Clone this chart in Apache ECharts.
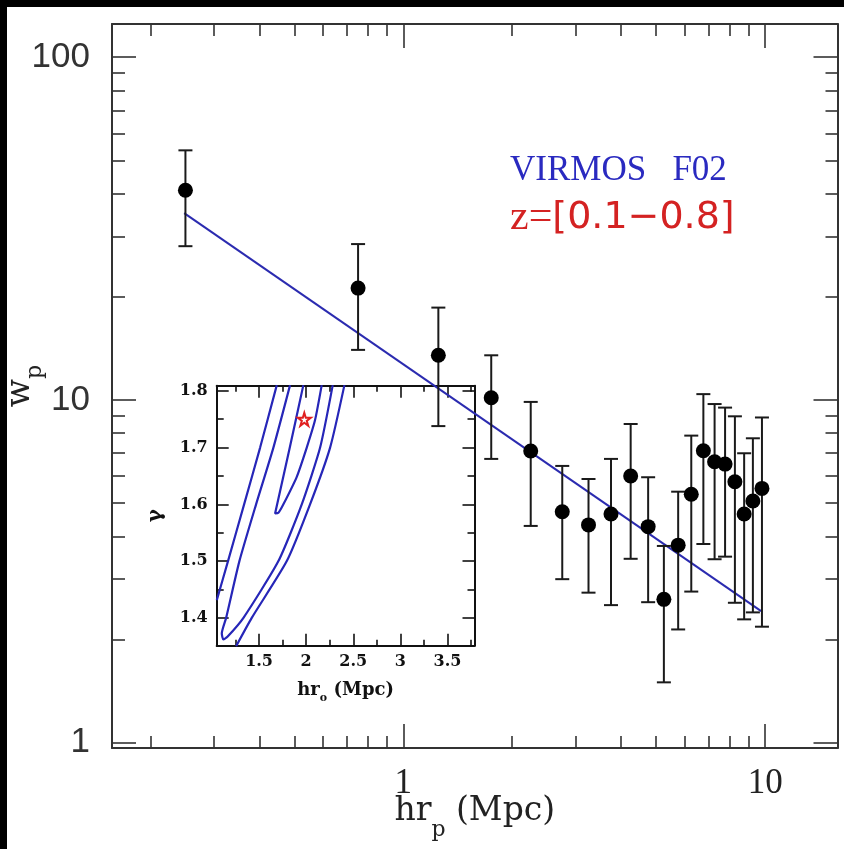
<!DOCTYPE html>
<html>
<head>
<meta charset="utf-8">
<script src="https://cdn.jsdelivr.net/npm/echarts@6/dist/echarts.min.js"></script>
<style>
html, body { margin: 0; padding: 0; background: #000; }
#chart { position: absolute; left: 7px; top: 7px; width: 837px; height: 842px; background: #fff; }
</style>
</head>
<body>
<div id="chart"></div>
<script>
// main panel: w_p(r_p) with error bars
var rp = [0.25, 0.75, 1.25, 1.75, 2.25, 2.75, 3.25, 3.75, 4.25, 4.75, 5.25, 5.75, 6.25, 6.75, 7.25, 7.75, 8.25, 8.75, 9.25, 9.8];
var wp = [40.9, 21.2, 13.5, 10.15, 7.1, 4.72, 4.32, 4.65, 6.0, 4.27, 2.62, 3.77, 5.31, 7.11, 6.6, 6.5, 5.77, 4.65, 5.07, 5.52];
var wpHigh = [53.5, 28.5, 18.6, 13.5, 9.87, 6.42, 5.88, 6.73, 8.51, 5.95, 3.75, 5.4, 7.87, 10.4, 9.73, 9.5, 8.96, 6.99, 7.73, 8.89];
var wpLow = [28.1, 14.0, 8.39, 6.73, 4.29, 3.0, 2.74, 2.52, 3.44, 2.57, 1.5, 2.14, 2.76, 3.8, 3.43, 3.49, 2.56, 2.29, 2.4, 2.18];

// power-law fit (end points)
var fitR = [0.248, 9.75];
var fitW = [35.1, 2.42];

// main axes ticks
var xMajor = [1, 10];
var xMinor = [0.2, 0.3, 0.4, 0.5, 0.6, 0.7, 0.8, 0.9, 2, 3, 4, 5, 6, 7, 8, 9];
var yMajor = [1, 10, 100];
var yMinor = [2, 3, 4, 5, 6, 7, 8, 9, 20, 30, 40, 50, 60, 70, 80, 90];

// inset: likelihood contours in (r0, gamma)
var innerR = [1.97, 1.826, 1.67, 1.705, 1.758, 1.9, 2.006, 2.094, 2.165];
var innerG = [1.81, 1.7, 1.584, 1.585, 1.6, 1.6485, 1.7, 1.7484, 1.81];
var middleR = [1.829, 1.652, 1.468, 1.291, 1.15, 1.104, 1.121, 1.164, 1.334, 1.705, 1.953, 2.148, 2.282];
var middleG = [1.81, 1.7, 1.6, 1.5, 1.4, 1.3725, 1.362, 1.3666, 1.4, 1.5, 1.6, 1.7, 1.81];
var outerLeftR = [1.688, 1.511, 1.341, 1.17, 1.051];
var outerLeftG = [1.81, 1.7, 1.6, 1.5, 1.4312];
var outerRightR = [1.256, 1.422, 1.794, 2.041, 2.254, 2.406];
var outerRightG = [1.35, 1.4, 1.5, 1.6, 1.7, 1.81];
var bestR = [1.98];
var bestG = [1.75];

var insetXMajor = [1.5, 2, 2.5, 3, 3.5];
var insetXMinor = [1.25, 1.75, 2.25, 2.75, 3.25, 3.75];
var insetYMajor = [1.4, 1.5, 1.6, 1.7, 1.8];
var insetYMinor = [1.45, 1.55, 1.65, 1.75];

var log10 = Math.log10;
var MAIN_X = [-0.805, 1.2];
var MAIN_Y = [-0.0155, 2.097];
var INSET_X = [1.05, 3.787];
var INSET_Y = [1.351, 1.809];

function pairs(a, b, f) {
    return a.map(function(v, i) { return f ? [f(v), f(b[i])] : [v, b[i]]; });
}

function tickAxis(grid, pos, range, ticks, len, color, opts) {
    opts = opts || {};
    var ax = {
        type: 'value',
        gridIndex: grid,
        position: pos,
        min: range[0],
        max: range[1],
        axisLine: { show: !!opts.line, onZero: false, lineStyle: { color: color, width: 2 } },
        axisTick: { show: true, inside: true, length: len, customValues: ticks, lineStyle: { color: color, width: 1.6 } },
        axisLabel: opts.label ? Object.assign({ customValues: ticks }, opts.label) : { show: false },
        splitLine: { show: false }
    };
    if (opts.name) {
        Object.assign(ax, opts.name, { nameLocation: 'middle', nameMoveOverlap: false });
    }
    return ax;
}

function powLabel(v) { return String(Math.round(Math.pow(10, v))); }

function renderErr(params, api) {
    var x = api.value(0);
    var lo = api.coord([x, api.value(1)]);
    var hi = api.coord([x, api.value(2)]);
    var w = 7;
    var st = { stroke: '#1a1a1a', lineWidth: 2 };
    return {
        type: 'group',
        children: [
            { type: 'line', shape: { x1: lo[0], y1: lo[1], x2: hi[0], y2: hi[1] }, style: st },
            { type: 'line', shape: { x1: lo[0] - w, y1: lo[1], x2: lo[0] + w, y2: lo[1] }, style: st },
            { type: 'line', shape: { x1: hi[0] - w, y1: hi[1], x2: hi[0] + w, y2: hi[1] }, style: st }
        ]
    };
}

var mainCol = '#333';
var insetCol = '#111';
var xMajorL = xMajor.map(log10), xMinorL = xMinor.map(log10);
var yMajorL = yMajor.map(log10), yMinorL = yMinor.map(log10);

var xAxes = [
    tickAxis(0, 'bottom', MAIN_X, xMajorL, 24, mainCol, {
        line: true,
        label: { formatter: powLabel, margin: 18, fontFamily: 'Liberation Serif', fontSize: 35, color: '#222' },
        name: {
            name: '{m|hr}{s|p}{m| (Mpc)}',
            nameGap: 33,
            nameTextStyle: { rich: {
                m: { fontFamily: 'DejaVu Serif', fontSize: 33, color: '#222' },
                s: { fontFamily: 'DejaVu Serif', fontSize: 22, color: '#222', padding: [38, 0, 0, 0] }
            } }
        }
    }),
    tickAxis(0, 'bottom', MAIN_X, xMinorL, 12, mainCol),
    tickAxis(0, 'top', MAIN_X, xMajorL, 24, mainCol, { line: true }),
    tickAxis(0, 'top', MAIN_X, xMinorL, 12, mainCol),
    tickAxis(1, 'bottom', INSET_X, insetXMajor, 12, insetCol, {
        line: true,
        label: { margin: 8, fontFamily: 'DejaVu Serif', fontWeight: 'bold', fontSize: 16, color: '#111' },
        name: {
            name: '{m|hr}{s|o}{m| (Mpc)}',
            nameGap: 31,
            nameTextStyle: { rich: {
                m: { fontFamily: 'DejaVu Serif', fontWeight: 'bold', fontSize: 18, color: '#111' },
                s: { fontFamily: 'DejaVu Serif', fontWeight: 'bold', fontSize: 11, color: '#111', padding: [16, 0, 0, 0] }
            } }
        }
    }),
    tickAxis(1, 'bottom', INSET_X, insetXMinor, 6, insetCol),
    tickAxis(1, 'top', INSET_X, insetXMajor, 12, insetCol, { line: true }),
    tickAxis(1, 'top', INSET_X, insetXMinor, 6, insetCol)
];

var yAxes = [
    tickAxis(0, 'left', MAIN_Y, yMajorL, 24, mainCol, {
        line: true,
        label: { formatter: powLabel, margin: 22, fontFamily: 'Liberation Sans', fontSize: 35, color: '#333' },
        name: {
            name: '{m|w}{s|p}',
            nameGap: 66,
            nameRotate: 90,
            nameTextStyle: { rich: {
                m: { fontFamily: 'DejaVu Serif', fontSize: 33, color: '#222' },
                s: { fontFamily: 'DejaVu Serif', fontSize: 22, color: '#222', padding: [30, 0, 0, 0] }
            } }
        }
    }),
    tickAxis(0, 'left', MAIN_Y, yMinorL, 13, mainCol),
    tickAxis(0, 'right', MAIN_Y, yMajorL, 24, mainCol, { line: true }),
    tickAxis(0, 'right', MAIN_Y, yMinorL, 12, mainCol),
    tickAxis(1, 'left', INSET_Y, insetYMajor, 12, insetCol, {
        line: true,
        label: { margin: 9, formatter: function(v) { return v.toFixed(1); }, fontFamily: 'DejaVu Serif', fontWeight: 'bold', fontSize: 16, color: '#111' },
        name: {
            name: 'γ',
            nameGap: 51,
            nameRotate: 90,
            nameTextStyle: { fontFamily: 'DejaVu Serif', fontWeight: 'bold', fontSize: 20, color: '#111' }
        }
    }),
    tickAxis(1, 'left', INSET_Y, insetYMinor, 7, insetCol),
    tickAxis(1, 'right', INSET_Y, insetYMajor, 12, insetCol, { line: true }),
    tickAxis(1, 'right', INSET_Y, insetYMinor, 7, insetCol)
];

var contourStyle = { color: '#2626b8', width: 2.2 };
function contour(r, g) {
    return {
        type: 'line', xAxisIndex: 4, yAxisIndex: 4, data: pairs(r, g),
        smooth: 0.2, showSymbol: false, clip: true, lineStyle: contourStyle, z: 3
    };
}

var chart = echarts.init(document.getElementById('chart'));
chart.setOption({
    animation: false,
    backgroundColor: '#fff',
    grid: [
        { left: 105, top: 17, right: 6.5, bottom: 101, containLabel: false, outerBoundsMode: 'none' },
        { left: 209.7, top: 378.7, width: 257.8, height: 260, containLabel: false, outerBoundsMode: 'none' }
    ],
    xAxis: xAxes,
    yAxis: yAxes,
    graphic: [
        {
            type: 'text', x: 503, y: 163.5,
            style: { text: 'VIRMOS   F02', font: '35px "Liberation Serif"', fill: '#2a2ac0', verticalAlign: 'middle' }
        },
        {
            type: 'text', x: 503, y: 211,
            style: {
                text: '{a|z=}{b|[0.1\u22120.8]}',
                verticalAlign: 'middle',
                rich: {
                    a: { fontFamily: 'Liberation Serif', fontSize: 42, fill: '#d42222' },
                    b: { fontFamily: 'DejaVu Sans', fontSize: 38, fill: '#d42222' }
                }
            }
        }
    ],
    series: [
        {
            type: 'line', xAxisIndex: 0, yAxisIndex: 0,
            data: pairs(fitR, fitW, log10),
            showSymbol: false, lineStyle: { color: '#2b2bb0', width: 2 }, z: 3
        },
        {
            type: 'custom', xAxisIndex: 0, yAxisIndex: 0,
            renderItem: renderErr,
            encode: { x: 0, y: [1, 2] },
            data: rp.map(function(r, i) { return [log10(r), log10(wpLow[i]), log10(wpHigh[i])]; }),
            z: 4
        },
        {
            type: 'scatter', xAxisIndex: 0, yAxisIndex: 0,
            data: pairs(rp, wp, log10),
            symbolSize: 15, itemStyle: { color: '#000', opacity: 1 }, z: 5
        },
        contour(innerR, innerG),
        contour(middleR, middleG),
        contour(outerLeftR, outerLeftG),
        contour(outerRightR, outerRightG),
        {
            type: 'scatter', xAxisIndex: 4, yAxisIndex: 4,
            data: pairs(bestR, bestG),
            symbol: 'path://M50,0 L61,35 L98,35 L68,57 L79,91 L50,70 L21,91 L32,57 L2,35 L39,35 Z',
            symbolSize: 13,
            itemStyle: { color: 'rgba(0,0,0,0)', borderColor: '#e02020', borderWidth: 2, opacity: 1 },
            z: 6
        }
    ]
});
</script>
</body>
</html>
